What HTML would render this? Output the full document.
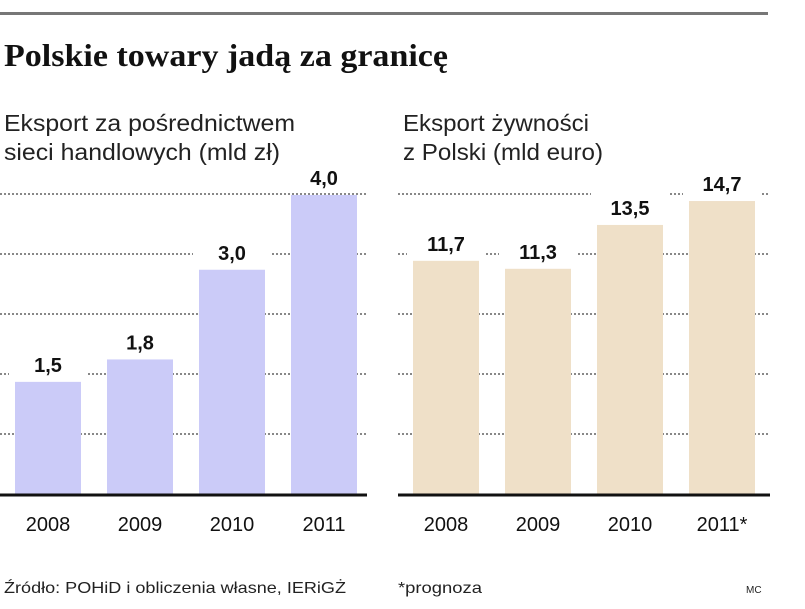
<!DOCTYPE html>
<html><head><meta charset="utf-8"><style>
html,body{margin:0;padding:0;background:#fff;}
svg{display:block;font-family:"Liberation Sans",sans-serif;}
</style></head><body>
<svg id="chart" width="805" height="609" viewBox="0 0 805 609" xmlns="http://www.w3.org/2000/svg">
<rect x="0" y="12" width="768" height="3" fill="#777"/>
<text x="4" y="66" font-family="Liberation Serif, serif" font-weight="bold" font-size="32" textLength="444" lengthAdjust="spacingAndGlyphs" fill="#111">Polskie towary jadą za granicę</text>
<text x="4" y="131" font-size="23" textLength="291" lengthAdjust="spacingAndGlyphs" fill="#222">Eksport za pośrednictwem</text>
<text x="4" y="160" font-size="23" textLength="276" lengthAdjust="spacingAndGlyphs" fill="#222">sieci handlowych (mld zł)</text>
<text x="403" y="131" font-size="23" textLength="186" lengthAdjust="spacingAndGlyphs" fill="#222">Eksport żywności</text>
<text x="403" y="160" font-size="23" textLength="200" lengthAdjust="spacingAndGlyphs" fill="#222">z Polski (mld euro)</text>
<g id="left"></g>
<g id="right"></g>
<text x="4" y="593" font-size="16" textLength="342" lengthAdjust="spacingAndGlyphs" fill="#222">Źródło: POHiD i obliczenia własne, IERiGŻ</text>
<text x="398" y="593" font-size="16" textLength="84" lengthAdjust="spacingAndGlyphs" fill="#222">*prognoza</text>
<text x="746" y="593" font-size="10" fill="#222">MC</text>
</svg>
<script>
const leftCategories = ["2008","2009","2010","2011"];
const leftValues = [1.5, 1.8, 3.0, 4.0];
const leftLabels = ["1,5","1,8","3,0","4,0"];
const rightCategories = ["2008","2009","2010","2011*"];
const rightValues = [11.7, 11.3, 13.5, 14.7];
const rightLabels = ["11,7","11,3","13,5","14,7"];

const NS = "http://www.w3.org/2000/svg";
function mk(tag, attrs, parent){
  const e = document.createElementNS(NS, tag);
  for (const k in attrs) e.setAttribute(k, attrs[k]);
  parent.appendChild(e);
  return e;
}
function drawChart(g, cats, vals, labels, o){
  const base = 494;
  const y = v => base - v * o.pxPerUnit;
  const x = i => o.x0 + i * o.step;
  for (let k = 1; k <= 5; k++){
    const gy = base - k * 60;
    const l = mk("line", {x1:o.gx0, x2:o.gx1, y1:gy, y2:gy, stroke:"#888", "stroke-width":2, "stroke-dasharray":"2 2"}, g);
    
    
  }
  cats.forEach((c, i) => {
    const bx = x(i), top = y(vals[i]);
    const bg = mk("rect", {x:bx-6, y:top-32, width:o.bw+12, height:30, fill:"#fff"}, g);
    
    
    const r = mk("rect", {x:bx, y:top, width:o.bw, height:base-top, fill:o.color}, g);
    
    
    const t = mk("text", {x:bx+o.bw/2, y:top-10, "text-anchor":"middle", "font-size":20, "font-weight":"bold", fill:"#111"}, g);
    t.textContent = labels[i];
    
    
    const yl = mk("text", {x:bx+o.bw/2, y:531, "text-anchor":"middle", "font-size":20, fill:"#111"}, g);
    yl.textContent = c;
    
    
  });
  const ax = mk("line", {x1:o.gx0, x2:o.gx1, y1:base+1, y2:base+1, stroke:"#111", "stroke-width":3}, g);
  
  
}
drawChart(document.getElementById("left"), leftCategories, leftValues, leftLabels,
  {x0:15, step:92, bw:66, pxPerUnit:74.75, gx0:0, gx1:367, color:"#cbcbf8"});
drawChart(document.getElementById("right"), rightCategories, rightValues, rightLabels,
  {x0:413, step:92, bw:66, pxPerUnit:19.93, gx0:398, gx1:770, color:"#efe0c8"});
</script>
</body></html>
